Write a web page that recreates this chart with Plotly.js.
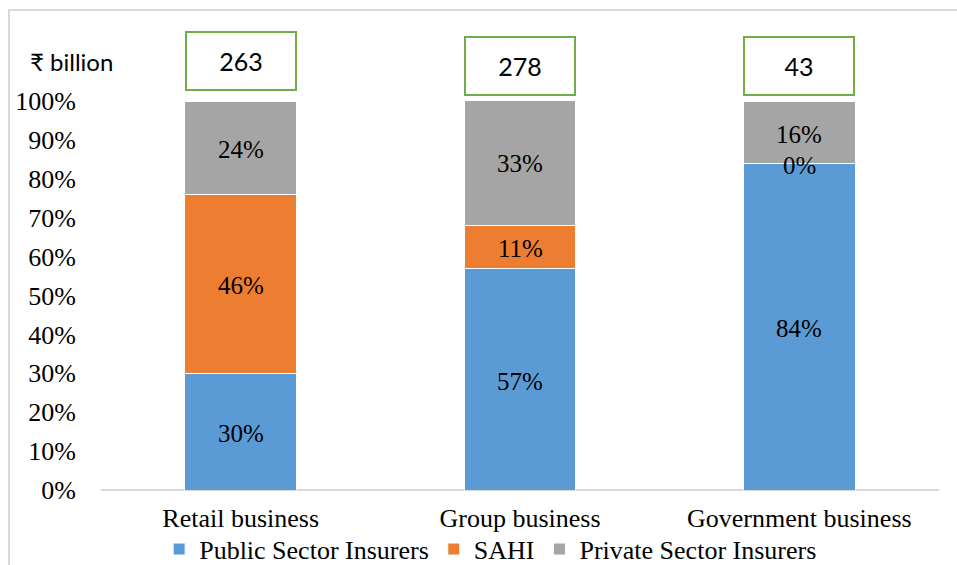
<!DOCTYPE html>
<html><head><meta charset="utf-8">
<script src="https://cdn.plot.ly/plotly-3.0.1.min.js"></script>
<style>
body{margin:0;padding:0;background:#fff;overflow:hidden}
#chart{position:absolute;left:0;top:0;width:957px;height:565px}
#frame{position:absolute;left:8px;top:9px;width:1000px;height:600px;border:2px solid #d9d9d9;pointer-events:none}
</style></head>
<body>
<div id="chart"></div>
<div id="frame"></div>
<script>
const categories = ["Retail business", "Group business", "Government business"];
const publicSector = [30, 57, 84];
const sahi = [46, 11, 0];
const privateSector = [24, 33, 16];
const totals = [263, 278, 43];
const totalBoxY = [1.103, 1.089, 1.09];
const seriesNames = ["Public Sector Insurers", "SAHI", "Private Sector Insurers"];
const colors = ["#5B9BD5", "#ED7D31", "#A5A5A5"];
const yTicks = [0,10,20,30,40,50,60,70,80,90,100];

const series = [publicSector, sahi, privateSector];
const serif = "Liberation Serif, Times New Roman, serif";
const traces = series.map((vals, i) => ({
  type: "bar", x: categories, y: vals, name: seriesNames[i],
  marker: {color: colors[i], line: {color: "#ffffff", width: 1}},
  width: 0.4, hoverinfo: "skip"
}));

const annotations = [];
categories.forEach((c, ci) => {
  let base = 0;
  series.forEach((vals) => {
    const v = vals[ci];
    annotations.push({x: c, y: base + v / 2 - 0.5, xref: "x", yref: "y",
      text: v + "%", showarrow: false, font: {family: serif, size: 25, color: "#000"}});
    base += v;
  });
  annotations.push({x: c, y: totalBoxY[ci], xref: "x", yref: "paper", yanchor: "middle", xanchor: "center",
    text: String(totals[ci]),
    showarrow: false, font: {family: "Lato, Open Sans, sans-serif", size: 25, color: "#000"},
    bordercolor: "#70AD47", borderwidth: 2, borderpad: 1, width: 106, height: 54, bgcolor: "#fff"});
});
annotations.push({x: (28 - 101) / 838, y: (490 - 61) / 389, xref: "paper", yref: "paper", text: "₹ billion", showarrow: false,
  xanchor: "left", yanchor: "middle", font: {family: "Lato, DejaVu Sans, sans-serif", size: 24, color: "#000"}});

const layout = {
  width: 957, height: 565,
  margin: {l: 101, r: 18, t: 101, b: 75, autoexpand: false},
  barmode: "stack",
  paper_bgcolor: "#fff", plot_bgcolor: "#fff",
  showlegend: true,
  legend: {orientation: "h", x: 0.465, xanchor: "center", y: -0.152, yanchor: "middle",
    bgcolor: "rgba(0,0,0,0)",
    font: {family: serif, size: 26, color: "#000"}, traceorder: "normal", itemwidth: 30},
  xaxis: {showgrid: false, zeroline: false, showline: false, ticks: "", automargin: false,
    ticklabelstandoff: 10,
    tickfont: {family: serif, size: 26, color: "#000"}, fixedrange: true},
  yaxis: {range: [0, 100], tickvals: yTicks, ticktext: yTicks.map(v => v + "%"), automargin: false,
    showgrid: false, zeroline: true, zerolinecolor: "#d9d9d9", zerolinewidth: 1.5,
    showline: false, ticks: "", ticklabelstandoff: 24,
    tickfont: {family: serif, size: 26, color: "#000"}, fixedrange: true},
  annotations: annotations,
  font: {family: serif}
};
Plotly.newPlot("chart", traces, layout, {displayModeBar: false, staticPlot: true});
</script>
</body></html>
